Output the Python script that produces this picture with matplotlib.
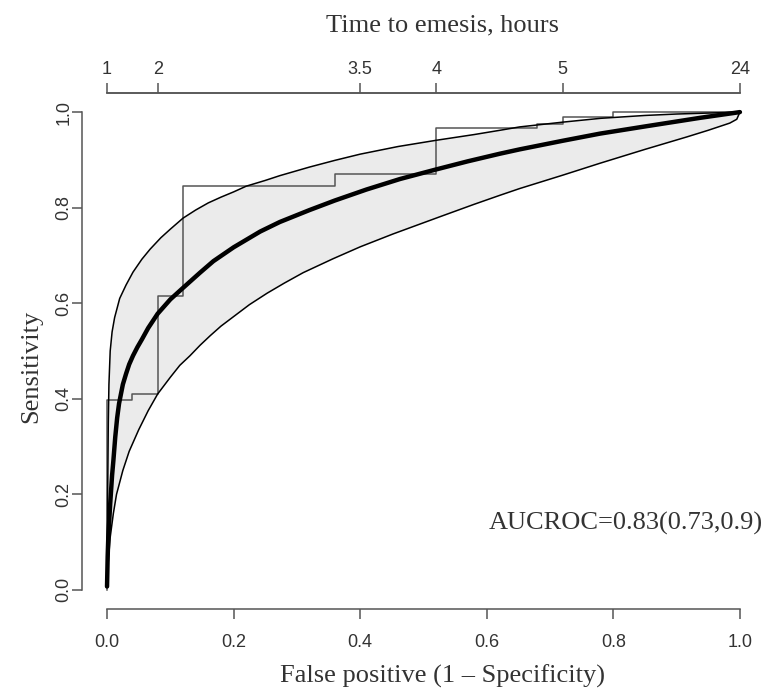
import matplotlib
matplotlib.use('Agg')
import matplotlib.pyplot as plt
import numpy as np

# empirical ROC (step)
step_fpr = [0, 0, 0.04, 0.08, 0.12, 0.36, 0.52, 0.68, 0.72, 0.80, 1.0]
step_tpr = [0, 0.397, 0.411, 0.615, 0.846, 0.870, 0.966, 0.976, 0.989, 1.0, 1.0]

# smoothed ROC
fit_fpr = [0, 0.001, 0.002, 0.005, 0.008, 0.01, 0.013, 0.016, 0.019, 0.025, 0.03, 0.035,
           0.041, 0.048, 0.055, 0.065, 0.08, 0.10, 0.12, 0.147, 0.168, 0.20, 0.242, 0.273,
           0.32, 0.36, 0.41, 0.463, 0.52, 0.57, 0.621, 0.652, 0.72, 0.779, 0.85, 0.937, 1.0]
fit_tpr = [0.007, 0.07, 0.11, 0.18, 0.24, 0.27, 0.32, 0.36, 0.39, 0.43, 0.452, 0.472,
           0.49, 0.508, 0.524, 0.548, 0.578, 0.608, 0.632, 0.664, 0.688, 0.717, 0.75, 0.77,
           0.795, 0.815, 0.838, 0.86, 0.88, 0.897, 0.913, 0.922, 0.94, 0.955, 0.97, 0.988, 1.0]

# confidence band
up_fpr = [0, 0.0005, 0.001, 0.002, 0.003, 0.005, 0.008, 0.012, 0.02, 0.03, 0.041, 0.055,
          0.068, 0.085, 0.10, 0.12, 0.14, 0.16, 0.18, 0.20, 0.22, 0.25, 0.273, 0.32, 0.36,
          0.40, 0.46, 0.52, 0.58, 0.621, 0.652, 0.72, 0.78, 0.85, 0.90, 0.95, 1.0]
up_tpr = [0.007, 0.1, 0.2, 0.35, 0.43, 0.5, 0.54, 0.57, 0.61, 0.638, 0.665, 0.692,
          0.713, 0.737, 0.755, 0.778, 0.795, 0.81, 0.822, 0.833, 0.845, 0.857, 0.867, 0.885, 0.899,
          0.912, 0.928, 0.941, 0.953, 0.962, 0.969, 0.979, 0.987, 0.993, 0.996, 0.998, 1.0]
lo_fpr = [0, 0.001, 0.002, 0.005, 0.01, 0.015, 0.025, 0.035, 0.05, 0.065, 0.08, 0.10,
          0.115, 0.131, 0.147, 0.163, 0.18, 0.20, 0.225, 0.253, 0.28, 0.31, 0.357, 0.40,
          0.452, 0.526, 0.58, 0.621, 0.652, 0.72, 0.779, 0.85, 0.916, 0.95, 0.984, 0.995, 1.0]
lo_tpr = [0.007, 0.04, 0.06, 0.11, 0.16, 0.2, 0.25, 0.29, 0.335, 0.375, 0.41, 0.445,
          0.47, 0.49, 0.512, 0.532, 0.552, 0.572, 0.597, 0.621, 0.642, 0.664, 0.693, 0.718,
          0.745, 0.781, 0.807, 0.826, 0.84, 0.868, 0.893, 0.922, 0.948, 0.962, 0.977, 0.985, 1.0]

top_pos = [0, 0.08, 0.40, 0.52, 0.72, 1.0]
top_lab = ['1', '2', '3.5', '4', '5', '24']
xt = [0, 0.2, 0.4, 0.6, 0.8, 1.0]
xt_lab = ['0.0', '0.2', '0.4', '0.6', '0.8', '1.0']

fig = plt.figure(figsize=(7.68, 6.94), dpi=100)
ax = fig.add_axes([0.1064, 0.1225, 0.89, 0.7435])

band_x = np.concatenate([up_fpr, lo_fpr[::-1]])
band_y = np.concatenate([up_tpr, lo_tpr[::-1]])
ax.fill(band_x, band_y, color='#ebebeb', lw=0)
ax.step(step_fpr, step_tpr, where='post', color='#555555', lw=1.1)
ax.plot(up_fpr, up_tpr, color='black', lw=1.1)
ax.plot(lo_fpr, lo_tpr, color='black', lw=1.1)
ax.plot(fit_fpr, fit_tpr, color='black', lw=3.2, solid_capstyle='round', solid_joinstyle='round')

ax.set_xlim(-0.04, 1.04)
ax.set_ylim(-0.04, 1.04)
ax.spines['right'].set_visible(False)
for s in ['left', 'bottom', 'top']:
    ax.spines[s].set_bounds(0, 1)
    ax.spines[s].set_color('#555555')
    ax.spines[s].set_linewidth(1.1)

ax.set_xticks(xt)
ax.set_xticklabels(xt_lab)
ax.set_yticks(xt)
ax.set_yticklabels(xt_lab, rotation=90, va='center')
ax.tick_params(direction='out', length=7.5, width=1.1, color='#555555', labelcolor='#333333',
               labelsize=13)
ax.tick_params(axis='x', pad=10.5)
ax.tick_params(axis='y', pad=-1)
for t in ax.get_xticklabels() + ax.get_yticklabels():
    t.set_family('Liberation Sans')

ax2 = ax.twiny()
ax2.set_xlim(ax.get_xlim())
ax2.set_xticks(top_pos)
ax2.set_xticklabels(top_lab, family='Liberation Sans')
ax2.tick_params(direction='out', length=7.5, width=1.1, color='#555555', labelcolor='#333333',
                labelsize=13, pad=3.5)
for s in ['left', 'right', 'bottom']:
    ax2.spines[s].set_visible(False)
ax2.spines['top'].set_bounds(0, 1)
ax2.spines['top'].set_color('#555555')
ax2.spines['top'].set_linewidth(1.1)

serif = dict(family='Liberation Serif', size=19, color='#333333')
ax.set_xlabel('False positive (1 – Specificity)', **serif)
ax.xaxis.set_label_coords(0.5285, -0.107)
ax.set_ylabel('Sensitivity', **serif)
ax.yaxis.set_label_coords(-0.058, 0.47)
ax2.set_xlabel('Time to emesis, hours', **serif)
ax2.xaxis.set_label_coords(0.5285, 1.12)

ax.text(0.82, 0.138, 'AUCROC=0.83(0.73,0.9)', ha='center', va='center', **serif)

fig.savefig('out.png', dpi=100)
